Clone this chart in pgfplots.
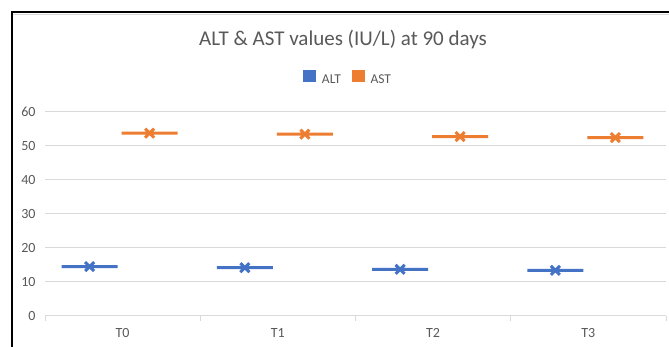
\documentclass[border=0pt]{standalone}
\usepackage{pgfplots}
\pgfplotsset{compat=1.18}
\usepackage{fontspec}
\setmainfont{Carlito}
\definecolor{altblue}{RGB}{68,114,196}
\definecolor{astorange}{RGB}{237,125,49}
\definecolor{txtgray}{RGB}{89,89,89}
\definecolor{gridgray}{RGB}{217,217,217}
\pgfdeclareplotmark{dashx}{%
  \pgfpathmoveto{\pgfqpoint{-28pt}{0pt}}%
  \pgfpathlineto{\pgfqpoint{28pt}{0pt}}%
  \pgfpathmoveto{\pgfqpoint{-4.5pt}{-4.5pt}}%
  \pgfpathlineto{\pgfqpoint{4.5pt}{4.5pt}}%
  \pgfpathmoveto{\pgfqpoint{-4.5pt}{4.5pt}}%
  \pgfpathlineto{\pgfqpoint{4.5pt}{-4.5pt}}%
  \pgfusepathqstroke}
\begin{document}
\begin{tikzpicture}[x=1pt,y=1pt]
\useasboundingbox (0,0) rectangle (669,347);
\fill[white] (0,0) rectangle (669,347);
\draw[gridgray, line width=1pt] (13,332.5) -- (669,332.5);
\draw[black, line width=2pt] (12,0) -- (12,335) -- (669,335);
\node[anchor=base, inner sep=0pt, font=\fontsize{21}{25}\selectfont, text=txtgray] at (343,301.3) {ALT \& AST values (IU/L) at 90 days};
\begin{axis}[
  at={(45pt,31pt)}, anchor=south west,
  scale only axis, width=621pt, height=204.3pt,
  xmin=-0.5, xmax=3.5, ymin=0, ymax=60,
  xtick={0,1,2,3}, xticklabels={T0,T1,T2,T3},
  minor xtick={-0.5,0.5,1.5,2.5,3.5},
  ytick={0,10,...,60},
  ymajorgrids, grid style={gridgray, line width=1pt},
  axis line style={draw=none},
  major tick length=0pt,
  minor tick length=5pt,
  tick align=outside,
  xtick pos=left, ytick pos=left,
  minor tick style={gridgray, line width=1pt},
  tick label style={font=\fontsize{14}{16}\selectfont, text=txtgray},
  /pgf/number format/assume math mode=true,
  yticklabel style={xshift=-6pt},
  xticklabel style={yshift=-8.5pt},
  clip=false,
  legend columns=-1,
  legend style={draw=none, fill=none, at={(rel axis cs:0.4875,1.167)}, anchor=center,
    nodes={font=\fontsize{13.5}{16}\selectfont, text=txtgray, inner sep=1pt},
    /tikz/every odd column/.append style={column sep=5pt},
    /tikz/every even column/.append style={column sep=10pt}},
]
\addplot[only marks, mark=dashx, color=altblue, line width=3pt, xshift=-33pt,
  legend image code/.code={\fill[altblue] (0pt,-0.5pt) rectangle (9.5pt,8.5pt);}]
  coordinates {(0,14.5) (1,14.2) (2,13.7) (3,13.4)};
\addlegendentry{ALT}
\addplot[only marks, mark=dashx, color=astorange, line width=3pt, xshift=27pt,
  legend image code/.code={\fill[astorange] (0pt,-0.5pt) rectangle (9.5pt,8.5pt);}]
  coordinates {(0,53.7) (1,53.4) (2,52.7) (3,52.4)};
\addlegendentry{AST}
\end{axis}
\end{tikzpicture}
\end{document}
